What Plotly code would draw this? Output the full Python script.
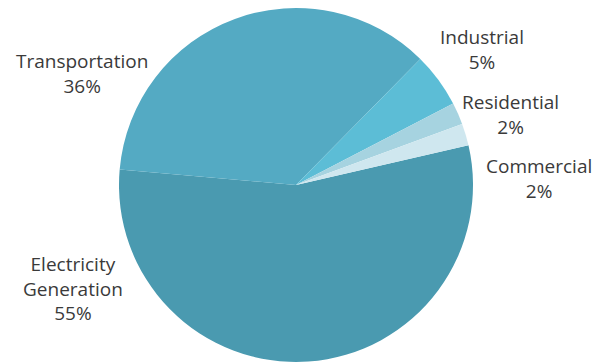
import plotly.graph_objects as go

categories = ["Electricity<br>Generation", "Transportation", "Industrial", "Residential", "Commercial"]
values = [55, 36, 5, 2, 2]
colors = ["#4a9ab0", "#54aac3", "#5cbdd6", "#a6d3e0", "#cfe7ef"]

# label anchor positions (pixels in the 611x364 canvas)
label_pos = [(73, 288), (82, 74), (482, 50), (510, 114), (539, 178)]

W, H = 611, 364
cx, cy, r = 296, 185, 177

fig = go.Figure(go.Pie(
    labels=categories,
    values=values,
    marker=dict(colors=colors, line=dict(width=0)),
    sort=False,
    direction="clockwise",
    rotation=77,
    textinfo="none",
    hoverinfo="label+percent",
    showlegend=False,
    domain=dict(x=[(cx - r) / W, (cx + r) / W], y=[1 - (cy + r) / H, 1 - (cy - r) / H]),
))

total = sum(values)
for cat, v, (px, py) in zip(categories, values, label_pos):
    fig.add_annotation(
        x=px / W, y=1 - py / H, xref="paper", yref="paper",
        text=f"{cat}<br>{round(100 * v / total)}%",
        showarrow=False, xanchor="center", yanchor="middle", align="center",
        font=dict(family="Open Sans", size=19, color="#3a3a3a"),
    )

fig.update_layout(
    width=W, height=H,
    margin=dict(l=0, r=0, t=0, b=0),
    paper_bgcolor="white", plot_bgcolor="white",
)

fig.write_html("out.html")
